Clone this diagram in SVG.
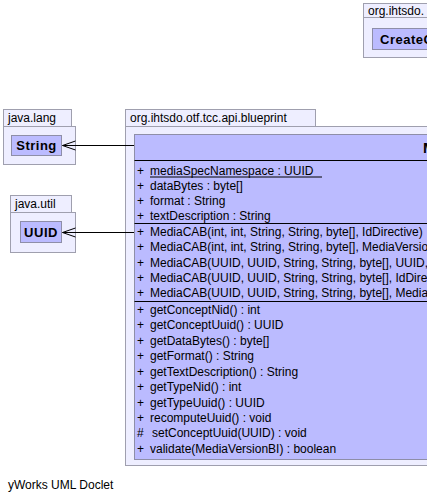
<svg xmlns="http://www.w3.org/2000/svg" width="427" height="502" viewBox="0 0 427 502">
<style>
text{font-family:"Liberation Sans",Arial,sans-serif;fill:#000}
.pkg{fill:#eeeeff;stroke:#9f9fae;stroke-width:1}
.cls{fill:#bbbbff;stroke:#8e8ea8;stroke-width:1}
.sep{stroke:#000;stroke-width:1}
.lbl{font-size:12px}
.cname{font-size:13px;font-weight:bold;letter-spacing:0.5px}
.m{font-size:12px}
.edge{stroke:#000;stroke-width:1;fill:none}
</style>
<rect width="427" height="502" fill="#fff"/>

<g id="pkg-ihtsdo">
<rect class="pkg" x="363.5" y="3.5" width="120" height="14"/>
<rect class="pkg" x="363.5" y="17.5" width="120" height="40"/>
<text class="lbl" x="368" y="14.5">org.ihtsdo.</text>
</g>
<g id="class-CreateC">
<rect class="cls" x="372.5" y="28.5" width="110" height="21"/>
<text class="cname" x="380" y="43.5">CreateC</text>
</g>

<g id="pkg-java-lang">
<rect class="pkg" x="3.5" y="109.5" width="68" height="17"/>
<rect class="pkg" x="3.5" y="126.5" width="72" height="38"/>
<text class="lbl" x="8" y="122">java.lang</text>
</g>
<g id="class-String">
<rect class="cls" x="11.5" y="135.5" width="50" height="20"/>
<text class="cname" x="36.5" y="150" text-anchor="middle">String</text>
</g>

<g id="pkg-java-util">
<rect class="pkg" x="10.5" y="195.5" width="61" height="17"/>
<rect class="pkg" x="10.5" y="212.5" width="65" height="40"/>
<text class="lbl" x="15" y="208">java.util</text>
</g>
<g id="class-UUID">
<rect class="cls" x="20.5" y="221.5" width="41" height="21"/>
<text class="cname" x="41" y="236.5" text-anchor="middle">UUID</text>
</g>

<g id="pkg-blueprint">
<rect class="pkg" x="125.5" y="109.5" width="190" height="17"/>
<rect class="pkg" x="125.5" y="126.5" width="400" height="339"/>
<text class="lbl" x="130" y="122">org.ihtsdo.otf.tcc.api.blueprint</text>
</g>

<g id="class-MediaCAB">
<rect class="cls" x="134.5" y="134.5" width="380" height="325"/>
<text x="423" y="152.5" style="font-size:15px;font-weight:bold">MediaCAB</text>
<line class="sep" x1="134.5" y1="160.5" x2="514" y2="160.5"/>
<g class="m">
<text class="m" x="137" y="174.5">+</text><text class="m" x="150" y="174.5">mediaSpecNamespace : UUID</text>
<line x1="150" y1="177" x2="322" y2="177" stroke="#000" stroke-width="1"/>
<text class="m" x="137" y="189.5">+</text><text class="m" x="150" y="189.5">dataBytes : byte[]</text>
<text class="m" x="137" y="205">+</text><text class="m" x="150" y="205">format : String</text>
<text class="m" x="137" y="220">+</text><text class="m" x="150" y="220">textDescription : String</text>
</g>
<line class="sep" x1="134.5" y1="223.5" x2="514" y2="223.5"/>
<g>
<text class="m" x="137" y="235.5">+</text><text class="m" x="150" y="235.5">MediaCAB(int, int, String, String, byte[], IdDirective)</text>
<text class="m" x="137" y="251">+</text><text class="m" x="150" y="251">MediaCAB(int, int, String, String, byte[], MediaVersionBI, IdDirective)</text>
<text class="m" x="137" y="266.5">+</text><text class="m" x="150" y="266.5">MediaCAB(UUID, UUID, String, String, byte[], UUID, MediaVersionBI)</text>
<text class="m" x="137" y="282">+</text><text class="m" x="150" y="282">MediaCAB(UUID, UUID, String, String, byte[], IdDirective)</text>
<text class="m" x="137" y="297">+</text><text class="m" x="150" y="297">MediaCAB(UUID, UUID, String, String, byte[], MediaVersionBI, IdDirective)</text>
</g>
<line class="sep" x1="134.5" y1="301.5" x2="514" y2="301.5"/>
<g>
<text class="m" x="137" y="313.5">+</text><text class="m" x="150" y="313.5">getConceptNid() : int</text>
<text class="m" x="137" y="329">+</text><text class="m" x="150" y="329">getConceptUuid() : UUID</text>
<text class="m" x="137" y="344.5">+</text><text class="m" x="150" y="344.5">getDataBytes() : byte[]</text>
<text class="m" x="137" y="360">+</text><text class="m" x="150" y="360">getFormat() : String</text>
<text class="m" x="137" y="375.5">+</text><text class="m" x="150" y="375.5">getTextDescription() : String</text>
<text class="m" x="137" y="391">+</text><text class="m" x="150" y="391">getTypeNid() : int</text>
<text class="m" x="137" y="406.5">+</text><text class="m" x="150" y="406.5">getTypeUuid() : UUID</text>
<text class="m" x="137" y="422">+</text><text class="m" x="150" y="422">recomputeUuid() : void</text>
<text class="m" x="137" y="437">#</text><text class="m" x="152" y="437">setConceptUuid(UUID) : void</text>
<text class="m" x="137" y="452.5">+</text><text class="m" x="150" y="452.5">validate(MediaVersionBI) : boolean</text>
</g>
</g>

<g id="connectors">
<path class="edge" d="M134 145.5H62.5M75.5 141L62.5 145.5L75.5 150"/>
<path class="edge" d="M134 232.5H62.5M75.5 228L62.5 232.5L75.5 237"/>
</g>

<text class="lbl" x="8" y="489">yWorks UML Doclet</text>
</svg>
